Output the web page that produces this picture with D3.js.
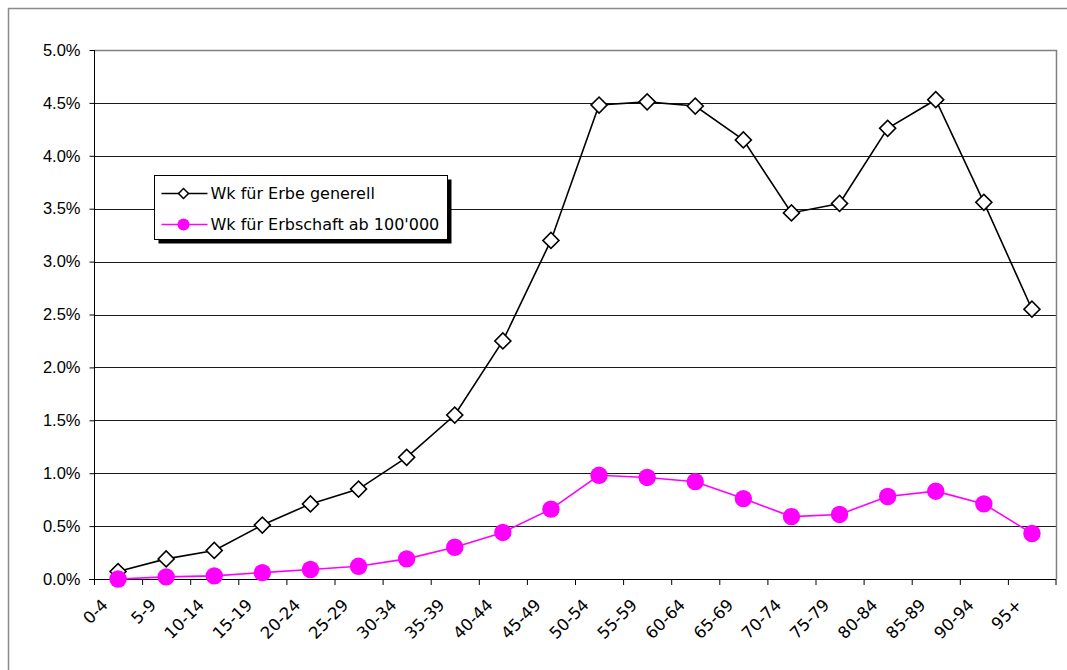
<!DOCTYPE html>
<meta charset="utf-8">
<style>
    body { margin: 0; background: #fff; }
    svg { display: block; font-family: "DejaVu Sans", Verdana, sans-serif; }
    .axis path, .axis line { stroke: #000; }
    .axis text { font-size: 16.5px; fill: #000; }
</style>
<body>
<script src="https://d3js.org/d3.v7.min.js"></script>
<script>
    var altersgruppen = ["0-4", "5-9", "10-14", "15-19", "20-24", "25-29", "30-34", "35-39", "40-44", "45-49",
        "50-54", "55-59", "60-64", "65-69", "70-74", "75-79", "80-84", "85-89", "90-94", "95+"];

    var erbeGenerell = [0.0007, 0.0019, 0.0027, 0.0051, 0.0071, 0.0085, 0.0115, 0.0155, 0.0225, 0.0320,
        0.0448, 0.0451, 0.0447, 0.0415, 0.0346, 0.0355, 0.0426, 0.0453, 0.0356, 0.0255];

    var erbschaft100k = [0.0000, 0.0002, 0.0003, 0.0006, 0.0009, 0.0012, 0.0019, 0.0030, 0.0044, 0.0066,
        0.0098, 0.0096, 0.0092, 0.0076, 0.0059, 0.0061, 0.0078, 0.0083, 0.0071, 0.0043];

    var legendeTexte = ["Wk für Erbe generell", "Wk für Erbschaft ab 100'000"];

    var yTicks = [0, 0.005, 0.01, 0.015, 0.02, 0.025, 0.03, 0.035, 0.04, 0.045, 0.05];

    var width = 1067,
        height = 670,
        margin = { top: 50, right: 11, bottom: 91, left: 94 };

    var svg = d3.select("body").append("svg")
        .attr("width", width)
        .attr("height", height);

    // aeusserer Rahmen
    svg.append("rect")
        .attr("x", 8.5).attr("y", 8.5)
        .attr("width", width).attr("height", height)
        .attr("fill", "none")
        .attr("stroke", "#8a8a8a")
        .attr("stroke-width", 1.5);

    var x = d3.scaleBand().domain(altersgruppen).range([margin.left, width - margin.right]),
        y = d3.scaleLinear().domain([0, 0.05]).range([height - margin.bottom, margin.top]);

    var x0 = margin.left, x1 = width - margin.right, y0 = height - margin.bottom;

    // Gitterlinien
    svg.append("g")
        .selectAll("line")
        .data(yTicks.slice(1, -1))
        .enter().append("line")
        .attr("x1", x0).attr("x2", x1)
        .attr("y1", function(d) { return Math.round(y(d)) + 0.5; })
        .attr("y2", function(d) { return Math.round(y(d)) + 0.5; })
        .attr("stroke", "#1a1a1a")
        .attr("stroke-width", 1);

    // Plotrahmen oben / rechts
    svg.append("path")
        .attr("d", "M" + x0 + "," + (y(0.05) + 0.5) + "H" + (x1 + 0.5) + "V" + y0)
        .attr("fill", "none")
        .attr("stroke", "#808080")
        .attr("stroke-width", 1.5);

    // y-Achse
    svg.append("g")
        .attr("class", "axis")
        .attr("transform", "translate(" + (x0 + 0.5) + ",0)")
        .call(d3.axisLeft(y).tickValues(yTicks).tickSize(5).tickPadding(9).tickFormat(d3.format(".1%")))
        .call(function(g) { g.select(".domain").attr("d", "M0," + y(0.05) + "V" + y0); });

    // x-Achse
    var xAxis = svg.append("g").attr("class", "axis");
    xAxis.append("line")
        .attr("x1", x0 - 5).attr("x2", x1)
        .attr("y1", y0 + 0.5).attr("y2", y0 + 0.5)
        .attr("stroke", "#000");
    xAxis.selectAll(".tick")
        .data(altersgruppen.concat([null]))
        .enter().append("line")
        .attr("x1", function(d) { return d === null ? x1 : x(d) + 0.5; })
        .attr("x2", function(d) { return d === null ? x1 : x(d) + 0.5; })
        .attr("y1", y0).attr("y2", y0 + 6)
        .attr("stroke", "#000");
    xAxis.selectAll("text")
        .data(altersgruppen)
        .enter().append("text")
        .attr("transform", function(d) {
            return "translate(" + (x(d) + x.bandwidth() / 2 - 9) + "," + (y0 + 27) + ") rotate(-45)";
        })
        .attr("text-anchor", "end")
        .text(function(d) { return d; });

    var cx = function(i) { return x(altersgruppen[i]) + x.bandwidth() / 2; };

    // Linien
    var linie = d3.line()
        .x(function(d, i) { return cx(i); })
        .y(function(d) { return y(d); });

    svg.append("path")
        .attr("d", linie(erbschaft100k))
        .attr("fill", "none")
        .attr("stroke", "#ff00ff")
        .attr("stroke-width", 1.6);

    svg.append("path")
        .attr("d", linie(erbeGenerell))
        .attr("fill", "none")
        .attr("stroke", "#000")
        .attr("stroke-width", 1.6);

    var diamond = d3.symbol().type(d3.symbolSquare).size(128);
    var diamondKlein = d3.symbol().type(d3.symbolSquare).size(50);

    svg.append("g")
        .selectAll("path")
        .data(erbeGenerell)
        .enter().append("path")
        .attr("d", diamond)
        .attr("transform", function(d, i) { return "translate(" + cx(i) + "," + y(d) + ") rotate(45)"; })
        .attr("fill", "#fff")
        .attr("stroke", "#000")
        .attr("stroke-width", 1.6);

    svg.append("g")
        .selectAll("circle")
        .data(erbschaft100k)
        .enter().append("circle")
        .attr("cx", function(d, i) { return cx(i); })
        .attr("cy", function(d) { return y(d); })
        .attr("r", 8.7)
        .attr("fill", "#ff00ff");

    // Legende
    var legende = svg.append("g").attr("transform", "translate(154.5,175.5)");
    legende.append("rect")
        .attr("x", 4).attr("y", 4)
        .attr("width", 293).attr("height", 64)
        .attr("fill", "#000");
    legende.append("rect")
        .attr("width", 293).attr("height", 64)
        .attr("fill", "#fff")
        .attr("stroke", "#000")
        .attr("stroke-width", 1);

    var eintrag = legende.selectAll(".eintrag")
        .data(legendeTexte)
        .enter().append("g")
        .attr("class", "eintrag")
        .attr("transform", function(d, i) { return "translate(0," + (18 + i * 31) + ")"; });

    eintrag.append("line")
        .attr("x1", 7).attr("x2", 53)
        .attr("stroke", function(d, i) { return i === 0 ? "#000" : "#ff00ff"; })
        .attr("stroke-width", 1.6);

    eintrag.filter(function(d, i) { return i === 0; })
        .append("path")
        .attr("d", diamondKlein)
        .attr("transform", "translate(29,0) rotate(45)")
        .attr("fill", "#fff")
        .attr("stroke", "#000")
        .attr("stroke-width", 1.5);

    eintrag.filter(function(d, i) { return i === 1; })
        .append("circle")
        .attr("cx", 29)
        .attr("r", 6)
        .attr("fill", "#ff00ff");

    eintrag.append("text")
        .attr("x", 56)
        .attr("dy", "0.36em")
        .style("font-size", "16px")
        .text(function(d) { return d; });
</script>
</body>
